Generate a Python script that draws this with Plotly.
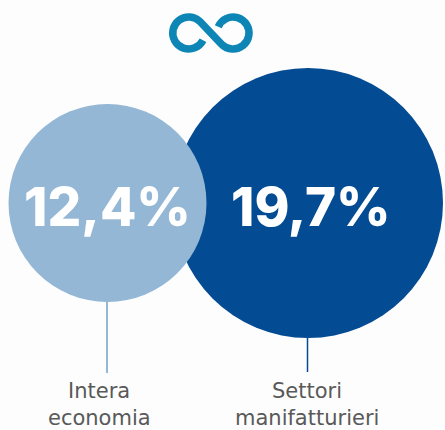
import math
import plotly.graph_objects as go

categories = ["Settori manifatturieri", "Intera economia"]
values = [19.7, 12.4]
value_labels = ["19,7%", "12,4%"]
label_lines = [["Settori", "manifatturieri"], ["Intera", "economia"]]

# layout (pixel coordinates: axes map 1:1 on the canvas)
W, H = 445, 430
centers_x = [308, 107.5]
center_y = 203
diameters = [270, 198]
colors = ["#034B92", "#93B7D5"]
stem_ends = [(337, 372), (302, 373)]
stem_widths = [1.5, 2]
stem_x = [307.5, 107]
value_x = [311, 107]
value_y = 207
label_x = [307, 99]
label_y = [391, 418]
TEXT = "#595959"
FONT = "Inter, Roboto, sans-serif"
LABEL_FONT = "DejaVu Sans, sans-serif"

fig = go.Figure()
for cx, d, c, s, sw, sx in zip(centers_x, diameters, colors, stem_ends, stem_widths, stem_x):
    fig.add_trace(go.Scatter(x=[sx, sx], y=list(s), mode="lines",
                             line=dict(color=c, width=sw), hoverinfo="skip"))
    fig.add_trace(go.Scatter(x=[cx], y=[center_y], mode="markers",
                             marker=dict(size=d, color=c, line=dict(width=0), opacity=1),
                             hoverinfo="skip", cliponaxis=False))

annotations = []
for t, x in zip(value_labels, value_x):
    annotations.append(dict(x=x, y=value_y, text=t, showarrow=False, xref="x", yref="y",
                            xanchor="center", yanchor="middle",
                            font=dict(family=FONT, size=53, color="white", weight=800)))
for lines, x in zip(label_lines, label_x):
    for line, y in zip(lines, label_y):
        annotations.append(dict(x=x, y=y, text=line, showarrow=False, xref="x", yref="y",
                                xanchor="center", yanchor="middle",
                                font=dict(family=LABEL_FONT, size=21, color=TEXT)))


def arc(cx, cy, r, a0, a1, start=False):
    """Cubic-bezier arc on the canvas, angles in degrees."""
    n = max(1, int(abs(a1 - a0) // 45) + 1)
    step = math.radians(a1 - a0) / n
    k = 4 / 3 * math.tan(step / 4) * r
    t = math.radians(a0)
    px, py = cx + r * math.cos(t), cy + r * math.sin(t)
    out = [f"{'M' if start else 'L'} {px:.2f} {py:.2f}"]
    for _ in range(n):
        t2 = t + step
        qx, qy = cx + r * math.cos(t2), cy + r * math.sin(t2)
        out.append(f"C {px - k * math.sin(t):.2f} {py + k * math.cos(t):.2f} "
                   f"{qx + k * math.sin(t2):.2f} {qy - k * math.cos(t2):.2f} "
                   f"{qx:.2f} {qy:.2f}")
        t, px, py = t2, qx, qy
    return " ".join(out)


# infinity icon
icon = arc(188.75, 33, 16, 27, 315, start=True) + " " + arc(233, 33, 16, 135, -157)
shapes = [dict(type="path", xref="x", yref="y", path=icon,
               line=dict(color="#0E86B5", width=7.5))]

fig.update_layout(
    width=W, height=H, margin=dict(l=0, r=0, t=0, b=0), autosize=False,
    paper_bgcolor="#FDFDFD", plot_bgcolor="#FDFDFD", showlegend=False,
    xaxis=dict(range=[0, W], visible=False, fixedrange=True),
    yaxis=dict(range=[H, 0], visible=False, fixedrange=True),
    annotations=annotations, shapes=shapes,
)
fig.write_html("out.html", config={"displayModeBar": False},
               post_script="document.body.style.margin='0';")
